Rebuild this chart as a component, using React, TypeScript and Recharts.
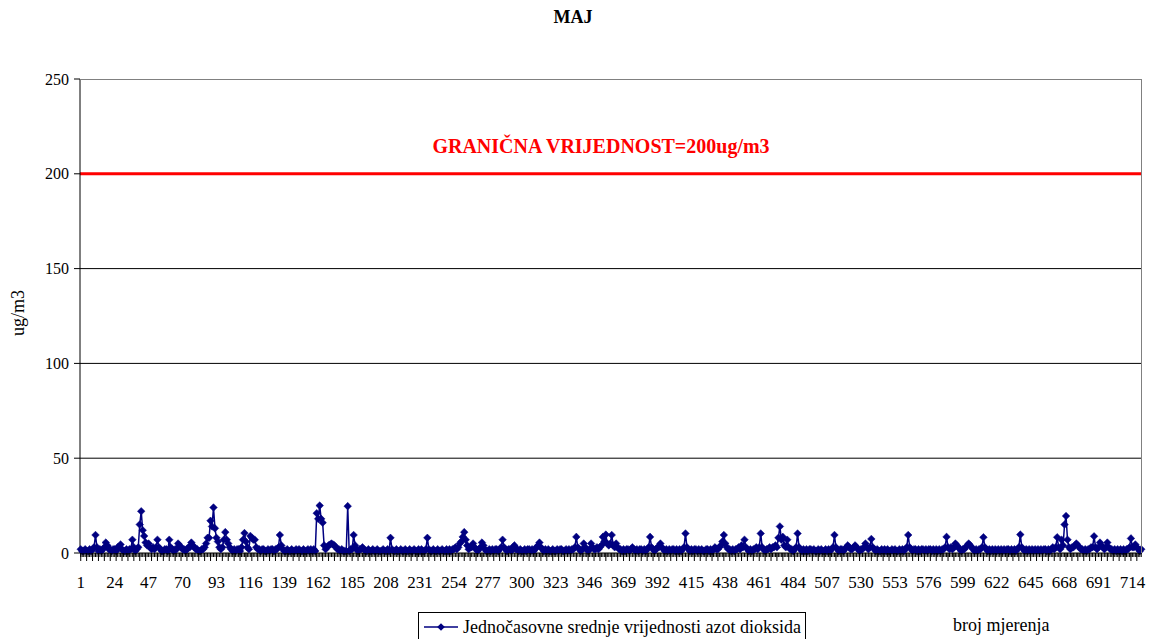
import React from "react";
import { LineChart, Line, XAxis, YAxis, CartesianGrid, ReferenceLine } from "recharts";

const part1 = [
  2,1,1,2,1,1,2,1,2,3,9.5,3,1,2,1,2,3,5.5,4,2,
  2,1,2,2,1,3,3,4.5,2,1,1,2,1,2,2,7,3,1,2,3,
  15,22,12,9,5.5,4,5,3,2,3,2,3,7,3,2,1,1,2,2,1,
  7,3,2,1,2,2,5,4,3,2,2,1,2,3,3,5.5,4,3,2,2,
  1,1,2,2,3,5,8,8,17,14,24,13,8,6,3,2,3,7,11,7,
  5,3,2,1,2,1,2,2,1,3,7,10.5,6,3,2,9,8,7,7,3,
];
const part2 = [
  2,2,1,2,2,1,1,2,1,2,2,1,2,2,3,9.5,4,2,1,1,
  2,1,1,2,1,1,2,1,2,1,1,2,1,1,2,1,2,1,2,1,
  21,18,25,18,16,4,2,3,4,4.5,5,4.5,4,3,2,2,1,2,1,1,
  1,24.7,1,2,2,9.5,4,2,1,2,2,3,2,1,1,2,1,1,2,1,
  1,2,1,1,1,2,1,1,2,1,8,2,1,1,2,1,1,2,1,1,
  2,1,1,2,1,1,2,1,1,2,1,2,1,1,2,8,2,1,1,2,
];
const part3 = [
  1,1,2,1,1,2,1,1,2,1,2,1,2,2,3,2,3,5,6,8.5,
  11,7,4,2,3,3,5,3,2,1,2,3,5.5,4,2,1,1,2,1,2,
  1,2,2,1,2,3,7,3,2,1,2,2,1,3,4,2,2,1,2,1,
  1,2,1,2,2,1,2,1,2,3,4,5.5,3,2,1,2,1,2,1,1,
  2,1,1,2,1,2,2,1,1,2,1,2,1,2,2,3,8.5,3,2,1,
  2,5,3,2,1,2,5,3,2,2,3,2,3,4,8.5,6,9.7,5,4,5,
];
const part4 = [
  9.5,4,3,5,3,2,2,1,2,1,2,2,1,2,3,2,1,2,1,2,
  2,1,2,1,2,3,8.5,3,2,1,2,3,3,5,3,2,1,2,1,2,
  1,2,2,1,2,1,2,1,2,3,10.3,3,2,1,2,1,2,2,1,2,
  1,2,1,1,2,2,1,2,1,2,3,2,2,3,4,6,9.5,5,3,2,
  2,1,2,1,2,2,3,2,4,3,7,3,2,1,2,1,2,2,3,2,
  3,10.3,3,2,1,2,2,3,2,3,3,4,3,8,14,7,8.5,4,3,7,
];
const part5 = [
  3,2,2,1,2,3,10.3,3,2,1,2,1,2,1,2,2,1,2,1,1,
  2,1,2,1,1,2,1,2,1,2,3,9.5,3,2,1,2,2,1,2,3,
  4,3,2,2,3,4,3,2,1,2,2,3,5,3,2,3,7.4,3,2,1,
  2,1,1,2,1,2,1,2,1,1,2,1,2,1,1,2,1,2,1,2,
  3,9.5,3,2,1,2,2,1,2,1,2,2,1,2,1,2,2,1,2,1,
  2,1,2,1,2,2,3,8.5,3,2,3,2,3,5,4,3,2,1,2,2,
];
const part6 = [
  3,4,5,4,3,2,1,2,1,2,2,3,8.3,3,2,1,2,1,2,1,
  2,1,2,1,2,1,2,1,2,2,1,2,1,2,1,2,3,9.7,3,2,
  1,2,1,2,1,2,1,2,1,2,1,2,1,2,2,1,2,1,2,3,
  2,3,8.3,3,2,7,4,15,19.5,7,3,2,3,3,4,5,4,3,2,2,
  1,2,1,2,2,3,3,8.8,3,2,3,5.5,4,3,2,3,5.5,3,2,2,
  1,2,1,2,1,2,1,2,1,2,2,3,7.7,3,3,4.5,3,2,1,2,
];

const yTicks = [0, 50, 100, 150, 200, 250];
const limitValue = 200;
const limitLabel = "GRANIČNA VRIJEDNOST=200ug/m3";
const seriesName = "Jednočasovne srednje vrijednosti azot dioksida";
const title = "MAJ";
const yLabel = "ug/m3";
const xLabel = "broj mjerenja";
const labelStep = 23;
const tickStep = 4;

const values = [...part1, ...part2, ...part3, ...part4, ...part5, ...part6];
const data = values.map((v, i) => ({ idx: i + 1, v }));

const FONT = '"Times New Roman", "Liberation Serif", Tinos, "DejaVu Serif", serif';
const NAVY = "#000080";

const Diamond = (props: any) => {
  const { cx, cy, index } = props;
  if (cx == null || cy == null) return null;
  const r = 3.8;
  return (
    <polygon
      key={`d${index}`}
      points={`${cx},${cy - r} ${cx + r},${cy} ${cx},${cy + r} ${cx - r},${cy}`}
      fill={NAVY}
      stroke={NAVY}
      strokeWidth={0.5}
    />
  );
};

const XTick = (props: any) => {
  const { x, y, payload } = props;
  const i = Number(payload.value);
  const k = i - 1;
  return (
    <g>
      <line x1={x} x2={x} y1={y} y2={y + 4} stroke="#000" strokeWidth={1} />
      {k % tickStep === 0 && <line x1={x} x2={x} y1={y} y2={y + 8} stroke="#000" strokeWidth={1} />}
      {k % labelStep === 0 && (
        <text x={x} y={y + 35} textAnchor="middle" style={{ fontFamily: FONT }} fontSize={17} fill="#000">
          {i}
        </text>
      )}
    </g>
  );
};

const LegendBox = () => (
  <div
    style={{
      position: "absolute",
      left: 418,
      top: 612,
      width: 388,
      height: 34,
      border: "1px solid #000",
      background: "#fff",
      boxSizing: "border-box",
      fontFamily: FONT,
      fontSize: 18,
      display: "flex",
      alignItems: "flex-start",
      paddingTop: 5,
      whiteSpace: "nowrap",
    }}
  >
    <svg width={40} height={18} style={{ marginLeft: 3, flex: "none" }}>
      <line x1={2} x2={36} y1={9} y2={9} stroke={NAVY} strokeWidth={1.5} />
      <polygon points="19,5.2 22.8,9 19,12.8 15.2,9" fill={NAVY} />
    </svg>
    <span style={{ marginLeft: 1, lineHeight: "18px" }}>{seriesName}</span>
  </div>
);

export default function App() {
  return (
    <div style={{ position: "absolute", left: 0, top: 0, width: 1152, height: 639, overflow: "hidden", background: "#fff", fontFamily: FONT }}>
      <LineChart
        width={1152}
        height={639}
        data={data}
        margin={{ top: 79, right: 10, bottom: 46, left: 0 }}
        style={{ fontFamily: FONT }}
      >
        <CartesianGrid horizontal vertical={false} stroke="#000" horizontalValues={[50, 100, 150]} />
        <XAxis
          dataKey="idx"
          type="category"
          interval={0}
          tickLine={false}
          tickSize={0}
          tickMargin={0}
          height={40}
          padding={{ left: 0.74, right: 0.74 }}
          axisLine={{ stroke: "#000", strokeWidth: 1 }}
          tick={(p: any) => <XTick {...p} />}
        />
        <YAxis
          domain={[0, 250]}
          ticks={yTicks}
          width={80}
          tickSize={6}
          tickMargin={5}
          axisLine={{ stroke: "#000" }}
          tickLine={{ stroke: "#000" }}
          tick={{ fontFamily: FONT, fontSize: 16, fill: "#000" }}
          interval={0}
        />
        <ReferenceLine
          y={limitValue}
          stroke="#ff0000"
          strokeWidth={3}
          label={{
            content: (p: any) => {
              const vb = p.viewBox || {};
              return (
                <text
                  x={(vb.x ?? 80) + (vb.width ?? 1062) / 2 - 10}
                  y={(vb.y ?? 174) - 21}
                  textAnchor="middle"
                  style={{ fontFamily: FONT }}
                  fontSize={20}
                  fontWeight="bold"
                  fill="#ff0000"
                >
                  {limitLabel}
                </text>
              );
            },
          }}
        />
        <Line
          dataKey="v"
          name={seriesName}
          stroke={NAVY}
          strokeWidth={1.5}
          dot={(p: any) => <Diamond {...p} key={`d${p.index}`} />}
          activeDot={false}
          isAnimationActive={false}
        />
      </LineChart>
      <div style={{ position: "absolute", left: 80, top: 79, width: 1062, height: 474, borderTop: "1px solid #808080", borderRight: "1px solid #808080", boxSizing: "border-box", pointerEvents: "none" }} />
      <div style={{ position: "absolute", left: 0, top: 7, width: 1146, textAlign: "center", fontFamily: FONT, fontSize: 18, fontWeight: "bold" }}>{title}</div>
      <div style={{ position: "absolute", left: 18, top: 313, transform: "translate(-50%, -50%) rotate(-90deg)", fontFamily: FONT, fontSize: 18, whiteSpace: "nowrap" }}>{yLabel}</div>
      <LegendBox />
      <div style={{ position: "absolute", left: 953, top: 615, fontFamily: FONT, fontSize: 18 }}>{xLabel}</div>
    </div>
  );
}
